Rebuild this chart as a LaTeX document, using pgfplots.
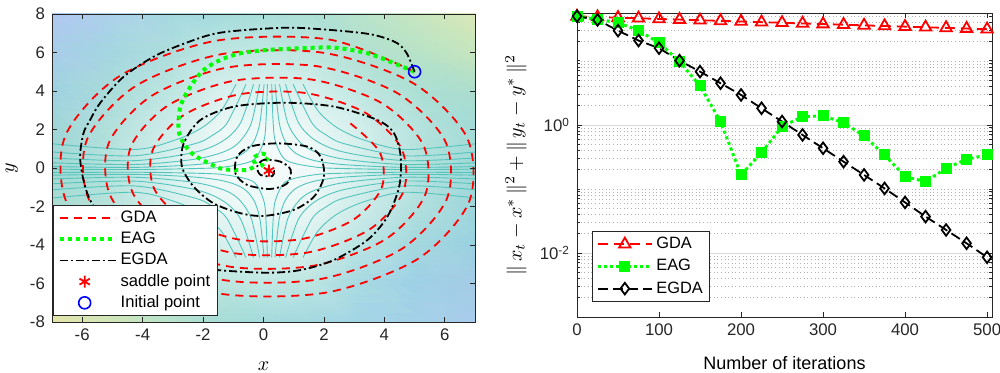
\documentclass[border=0pt]{standalone}
\usepackage{fontspec}
\setmainfont{Liberation Sans}
\usepackage{pgfplots}
\pgfplotsset{compat=1.18}
\usetikzlibrary{plotmarks}
\definecolor{mred}{rgb}{1,0,0}
\definecolor{mgreen}{rgb}{0,1,0}
\definecolor{mblue}{rgb}{0,0,1}
\definecolor{cline}{rgb}{0.33,0.77,0.74}
\definecolor{axgray}{rgb}{0.15,0.15,0.15}
\pgfplotsset{markonly legend/.style={legend image code/.code={\path (0pt,0pt) (28pt,0pt); \draw[##1] plot coordinates {(12.5pt,0pt)};}}}
\begin{document}
\begin{tikzpicture}
\path[use as bounding box] (0,0) rectangle (500pt,186.5pt);
% ---------------- left panel ----------------
\begin{axis}[
  at={(26pt,25.5pt)}, anchor=south west,
  scale only axis, width=211.5pt, height=154pt,
  xmin=-7, xmax=7, ymin=-8, ymax=8,
  xtick={-6,-4,-2,0,2,4,6}, ytick={-8,-6,-4,-2,0,2,4,6,8},
  axis on top, tick align=inside, major tick length=2.5pt,
  axis line style={axgray, line width=0.4pt}, tick style={axgray, line width=0.4pt},
  tick label style={font=\fontsize{8.4}{10}\selectfont, text=axgray},
  /pgf/number format/assume math mode=true,
  xlabel={$x$}, ylabel={$y$},
  label style={font=\fontsize{10}{12}\selectfont},
  x label style={at={(axis description cs:0.5,-0.145)}, anchor=center},
  y label style={at={(axis description cs:-0.095,0.5)}, anchor=center},
  legend style={at={(0.003,0.02)}, anchor=south west, font=\fontsize{8.3}{9}\selectfont,
    draw=axgray, fill=white, inner xsep=2pt, inner ysep=1pt, row sep=0pt,
    nodes={inner sep=1.5pt, text height=6pt, text depth=1.6pt}},
  legend cell align=left,
  legend image code/.code={\path (0pt,0pt) -- (28pt,0pt); \draw[#1] (0pt,0pt) -- (25pt,0pt);},
]
% background: average colour of the contour field
\addplot[surf, shader=interp, mesh/cols=9, mesh/color input=explicit,
  point meta=explicit symbolic, forget plot] table[meta=c] {
x y c
-7 -8 rgb=0.90,0.90,0.66
-5 -8 rgb=0.82,0.90,0.72
-3 -8 rgb=0.72,0.89,0.80
-1.5 -8 rgb=0.66,0.87,0.84
0 -8 rgb=0.64,0.86,0.86
1.5 -8 rgb=0.64,0.85,0.88
3 -8 rgb=0.64,0.84,0.90
5 -8 rgb=0.64,0.82,0.91
7 -8 rgb=0.66,0.80,0.92
-7 -6 rgb=0.78,0.89,0.74
-5 -6 rgb=0.72,0.89,0.78
-3 -6 rgb=0.70,0.88,0.83
-1.5 -6 rgb=0.74,0.90,0.87
0 -6 rgb=0.76,0.91,0.89
1.5 -6 rgb=0.74,0.90,0.88
3 -6 rgb=0.66,0.86,0.88
5 -6 rgb=0.62,0.82,0.90
7 -6 rgb=0.64,0.80,0.90
-7 -4 rgb=0.70,0.87,0.78
-5 -4 rgb=0.68,0.88,0.82
-3 -4 rgb=0.76,0.91,0.89
-1.5 -4 rgb=0.84,0.94,0.93
0 -4 rgb=0.86,0.95,0.94
1.5 -4 rgb=0.84,0.94,0.93
3 -4 rgb=0.74,0.90,0.89
5 -4 rgb=0.64,0.85,0.87
7 -4 rgb=0.60,0.82,0.88
-7 -2 rgb=0.66,0.86,0.82
-5 -2 rgb=0.72,0.89,0.86
-3 -2 rgb=0.84,0.94,0.93
-1.5 -2 rgb=0.92,0.97,0.96
0 -2 rgb=0.93,0.98,0.97
1.5 -2 rgb=0.92,0.97,0.96
3 -2 rgb=0.82,0.93,0.92
5 -2 rgb=0.70,0.88,0.87
7 -2 rgb=0.62,0.84,0.86
-7 0 rgb=0.62,0.85,0.83
-5 0 rgb=0.72,0.89,0.87
-3 0 rgb=0.86,0.95,0.94
-1.5 0 rgb=0.95,0.98,0.98
0 0 rgb=0.96,0.99,0.98
1.5 0 rgb=0.95,0.98,0.98
3 0 rgb=0.86,0.95,0.94
5 0 rgb=0.72,0.89,0.87
7 0 rgb=0.62,0.85,0.84
-7 2 rgb=0.62,0.84,0.84
-5 2 rgb=0.70,0.88,0.86
-3 2 rgb=0.82,0.93,0.92
-1.5 2 rgb=0.92,0.97,0.96
0 2 rgb=0.93,0.98,0.97
1.5 2 rgb=0.92,0.97,0.96
3 2 rgb=0.84,0.94,0.93
5 2 rgb=0.72,0.89,0.87
7 2 rgb=0.64,0.86,0.84
-7 4 rgb=0.62,0.82,0.88
-5 4 rgb=0.66,0.86,0.85
-3 4 rgb=0.74,0.90,0.88
-1.5 4 rgb=0.84,0.94,0.93
0 4 rgb=0.86,0.95,0.94
1.5 4 rgb=0.84,0.94,0.93
3 4 rgb=0.76,0.91,0.89
5 4 rgb=0.68,0.88,0.83
7 4 rgb=0.68,0.87,0.80
-7 6 rgb=0.66,0.80,0.92
-5 6 rgb=0.64,0.84,0.88
-3 6 rgb=0.68,0.87,0.86
-1.5 6 rgb=0.74,0.90,0.88
0 6 rgb=0.76,0.91,0.89
1.5 6 rgb=0.74,0.90,0.87
3 6 rgb=0.70,0.88,0.83
5 6 rgb=0.72,0.89,0.78
7 6 rgb=0.78,0.90,0.74
-7 8 rgb=0.70,0.78,0.95
-5 8 rgb=0.68,0.82,0.92
-3 8 rgb=0.64,0.85,0.88
-1.5 8 rgb=0.64,0.86,0.86
0 8 rgb=0.66,0.87,0.85
1.5 8 rgb=0.68,0.88,0.84
3 8 rgb=0.72,0.89,0.80
5 8 rgb=0.78,0.90,0.75
7 8 rgb=0.86,0.91,0.72
};
% contour lines near the saddle
\addplot[cline, line width=0.45pt, smooth, unbounded coords=jump, forget plot] table {
x y
0.27 4.35
0.32 2.35
0.40 1.35
0.75 0.40
1.70 0.05
2.70 -0.03
4.70 -0.08
7.20 -0.06
nan nan
0.13 4.35
0.08 2.35
0.0 1.35
-0.35 0.40
-1.30 0.05
-2.30 -0.03
-4.30 -0.08
-7.20 -0.06
nan nan
0.13 -4.65
0.08 -2.65
0.0 -1.65
-0.35 -0.70
-1.30 -0.35
-2.30 -0.27
-4.30 -0.22
-7.20 -0.24
nan nan
0.27 -4.65
0.32 -2.65
0.40 -1.65
0.75 -0.70
1.70 -0.35
2.70 -0.27
4.70 -0.22
7.20 -0.24
nan nan
0.38 4.35
0.52 2.35
0.73 1.35
1.09 0.74
1.70 0.38
2.70 0.17
4.70 0.03
7.20 0.08
nan nan
0.02 4.35
-0.12 2.35
-0.33 1.35
-0.69 0.74
-1.30 0.38
-2.30 0.17
-4.30 0.03
-7.20 0.08
nan nan
0.02 -4.65
-0.12 -2.65
-0.33 -1.65
-0.69 -1.04
-1.30 -0.68
-2.30 -0.47
-4.30 -0.33
-7.20 -0.38
nan nan
0.38 -4.65
0.52 -2.65
0.73 -1.65
1.09 -1.04
1.70 -0.68
2.70 -0.47
4.70 -0.33
7.20 -0.38
nan nan
0.53 4.35
0.80 2.35
1.20 1.35
1.70 0.85
2.70 0.45
4.70 0.18
7.20 0.28
nan nan
-0.13 4.35
-0.40 2.35
-0.80 1.35
-1.30 0.85
-2.30 0.45
-4.30 0.18
-7.20 0.28
nan nan
-0.13 -4.65
-0.40 -2.65
-0.80 -1.65
-1.30 -1.15
-2.30 -0.75
-4.30 -0.48
-7.20 -0.58
nan nan
0.53 -4.65
0.80 -2.65
1.20 -1.65
1.70 -1.15
2.70 -0.75
4.70 -0.48
7.20 -0.58
nan nan
0.73 4.35
1.16 2.35
1.75 1.40
2.70 0.81
4.70 0.38
7.20 0.54
nan nan
-0.33 4.35
-0.76 2.35
-1.35 1.40
-2.30 0.81
-4.30 0.38
-7.20 0.54
nan nan
-0.33 -4.65
-0.76 -2.65
-1.35 -1.70
-2.30 -1.11
-4.30 -0.68
-7.20 -0.84
nan nan
0.73 -4.65
1.16 -2.65
1.75 -1.70
2.70 -1.11
4.70 -0.68
7.20 -0.84
nan nan
0.98 4.35
1.60 2.35
2.07 1.72
2.70 1.25
4.70 0.63
7.20 0.86
nan nan
-0.58 4.35
-1.20 2.35
-1.67 1.72
-2.30 1.25
-4.30 0.63
-7.20 0.86
nan nan
-0.58 -4.65
-1.20 -2.65
-1.67 -2.02
-2.30 -1.55
-4.30 -0.93
-7.20 -1.16
nan nan
0.98 -4.65
1.60 -2.65
2.07 -2.02
2.70 -1.55
4.70 -0.93
7.20 -1.16
nan nan
1.31 4.35
1.80 2.98
2.44 2.09
3.33 1.45
4.70 0.96
7.20 1.29
nan nan
-0.91 4.35
-1.40 2.98
-2.04 2.09
-2.93 1.45
-4.30 0.96
-7.20 1.29
nan nan
-0.91 -4.65
-1.40 -3.28
-2.04 -2.39
-2.93 -1.75
-4.30 -1.26
-7.20 -1.59
nan nan
1.31 -4.65
1.80 -3.28
2.44 -2.39
3.33 -1.75
4.70 -1.26
7.20 -1.59
};
% GDA
\addplot[mred, line width=0.9pt, dash pattern=on 4pt off 3pt, smooth] coordinates {
(5,5) (2.18,6.67) (-1.57,6.61) (-4.77,4.77) (-6.56,1.67) (-6.50,-1.85)
(-4.63,-4.84) (-1.49,-6.52) (2.08,-6.47) (5.11,-4.72) (6.80,-1.77) (6.74,1.56)
(4.97,4.39) (2.00,5.98) (-1.37,5.92) (-4.23,4.26) (-5.84,1.48) (-5.77,-1.67)
(-4.11,-4.34) (-1.29,-5.83) (1.88,-5.77) (4.57,-4.21) (6.07,-1.59) (6.02,1.37)
(4.44,3.88) (1.80,5.28) (-1.19,5.22) (-3.70,3.75) (-5.12,1.30) (-5.06,-1.48)
(-3.58,-3.83) (-1.10,-5.13) (1.68,-5.07) (4.04,-3.70) (5.35,-1.40) (5.29,1.19)
(3.91,3.37) (1.61,4.59) (-0.99,4.53) (-3.17,3.24) (-4.39,1.11) (-4.33,-1.29)
(-3.05,-3.32) (-0.91,-4.44) (1.50,-4.38) (3.51,-3.19) (4.63,-1.22) (4.57,1.00)
(3.38,2.86) (1.41,3.89) (-0.79,3.83) (-2.65,2.74) (-3.67,0.92) (-3.61,-1.11)
(-2.52,-2.81) (-0.72,-3.74) (1.30,-3.68) (2.98,-2.68) (3.91,-1.03) (3.85,0.81)
(2.85,2.35)
};
\addlegendentry{GDA}
% EAG
\addplot[mgreen, line width=2pt, dash pattern=on 2pt off 2pt, smooth] coordinates {
(5,5) (4.32,5.44) (3.44,5.96) (2.33,6.25) (1.23,6.22) (0.12,6.13) (-0.76,5.96)
(-1.43,5.61) (-1.98,5.09) (-2.42,4.23) (-2.75,3.19) (-2.81,1.97) (-2.64,1.28)
(-2.31,0.68) (-1.76,0.21) (-1.43,-0.02) (-1.09,-0.1) (-0.54,-0.1) (-0.27,0.16)
(-0.35,0.5) (-0.05,0.75) (0.15,0.55) (-0.05,0.2) (0.1,-0.05) (0.18,-0.14)
};
\addlegendentry{EAG}
% EGDA
\addplot[black, line width=0.9pt, dash pattern=on 4pt off 1.5pt on 1pt off 1.5pt, smooth, tension=0.5] coordinates {
(5,5) (4.74,5.96) (4.43,6.48) (3.88,6.82) (3.32,7.0) (2.22,7.17) (0.9,7.29)
(-0.5,7.18) (-1.54,7.0) (-2.3,6.65) (-3.53,5.87) (-4.63,4.74) (-5.41,3.37)
(-5.74,2.49) (-5.96,1.8) (-6.07,0.59) (-5.96,-0.62) (-5.74,-1.66) (-5.2,-3.0)
(-4.3,-4.2) (-3.0,-5.0) (-1.54,-5.3) (0.12,-5.44) (1.23,-5.3) (2.33,-4.78)
(3.44,-3.74) (4.1,-2.53) (4.49,-0.97) (4.54,0.59) (4.32,1.8) (3.77,2.49)
(2.33,3.19) (0.67,3.39) (-0.98,3.19) (-2.09,2.49) (-2.64,1.28) (-2.7,0.07)
(-2.31,-0.97) (-1.65,-1.84) (-0.76,-2.35) (0.01,-2.49) (1.0,-2.18) (1.67,-1.49)
(2.0,-0.45) (1.89,0.59) (1.45,1.11) (0.45,1.28) (-0.43,1.11) (-0.87,0.59)
(-0.93,-0.28) (-0.54,-0.88) (0.23,-1.09) (0.78,-0.8) (0.9,-0.1) (0.56,0.33)
(0.01,0.42) (-0.21,0.07) (-0.1,-0.36) (0.29,-0.42) (0.35,-0.15) (0.18,-0.14)
};
\addlegendentry{EGDA}
\addplot[only marks, mark=asterisk, mark size=3pt, mred, line width=0.9pt, markonly legend]
  coordinates {(0.18,-0.14)};
\addlegendentry{saddle point}
\addplot[only marks, mark=o, mark size=3pt, mblue, line width=0.8pt, markonly legend]
  coordinates {(5,5)};
\addlegendentry{Initial point}
\end{axis}
% ---------------- right panel ----------------
\begin{axis}[
  at={(288.5pt,28pt)}, anchor=south west,
  scale only axis, width=207.5pt, height=152pt,
  ymode=log, xmin=0, xmax=506, ymin=1e-3, ymax=56,
  xtick={0,100,200,300,400,500},
  ytick={0.01,1}, yticklabels={10\textsuperscript{-2},10\textsuperscript{0}},
  minor ytick={0.002,0.003,0.004,0.005,0.006,0.007,0.008,0.009,
    0.02,0.03,0.04,0.05,0.06,0.07,0.08,0.09,0.1,
    0.2,0.3,0.4,0.5,0.6,0.7,0.8,0.9,2,3,4,5,6,7,8,9,10,20,30,40,50},
  ymajorgrids, yminorgrids,
  major grid style={black!15, line width=0.4pt},
  minor grid style={black!30, line width=0.3pt, dash pattern=on 0.5pt off 1.3pt},
  tick align=inside, major tick length=2.5pt, minor tick length=1.3pt,
  axis line style={axgray, line width=0.4pt}, tick style={axgray, line width=0.4pt},
  tick label style={font=\fontsize{8.4}{10}\selectfont, text=axgray},
  /pgf/number format/assume math mode=true,
  xlabel={Number of iterations},
  ylabel={$\|\,x_t-x^*\,\|^2+\|\,y_t-y^*\,\|^2$},
  x label style={at={(axis description cs:0.5,-0.151)}, anchor=center, font=\fontsize{9}{11}\selectfont},
  y label style={at={(axis description cs:-0.147,0.5)}, anchor=center, font=\fontsize{10}{12}\selectfont},
  legend style={at={(0.036,0.049)}, anchor=south west, font=\fontsize{8.2}{9}\selectfont,
    draw=axgray, fill=white, inner xsep=2pt, inner ysep=1pt, row sep=0pt,
    nodes={inner sep=1.5pt, text height=6.3pt, text depth=1.8pt}},
  legend cell align=left,
  legend image code/.code={\draw[#1, mark repeat=2, mark phase=2] plot coordinates {(0pt,0pt) (13.5pt,0pt) (27pt,0pt)};},
]
\addplot[mred, line width=0.9pt, dash pattern=on 5pt off 3pt, mark=triangle, mark size=3.3pt,
  mark options={solid, line width=0.9pt}] coordinates {
(0,49.6) (25,48.5) (50,47.3) (75,46.3) (100,45.2) (125,44.2) (150,43.2)
(175,42.2) (200,41.3) (225,40.3) (250,39.4) (275,38.5) (300,37.6) (325,36.8)
(350,35.9) (375,35.1) (400,34.3) (425,33.5) (450,32.8) (475,32.0) (500,31.3)
};
\addlegendentry{GDA}
\addplot[mgreen, line width=1.5pt, dash pattern=on 1.5pt off 1.5pt, mark=square*, mark size=2.5pt,
  mark options={solid, line width=0.5pt}] coordinates {
(0,49.6) (25,44.5) (50,39.7) (75,29.7) (100,19.3) (125,9.77) (150,4.07)
(175,1.13) (200,0.1655) (225,0.37) (250,0.94) (275,1.35) (300,1.38) (325,1.09)
(350,0.673) (375,0.34) (400,0.156) (425,0.130) (450,0.21) (475,0.291) (500,0.34)
};
\addlegendentry{EAG}
\addplot[black, line width=0.9pt, dash pattern=on 5pt off 2.5pt, mark=diamond, mark size=2.9pt,
  mark options={solid, line width=0.9pt}] coordinates {
(0,50.0) (25,43.7) (50,29.7) (75,20.8) (100,15.8) (125,10.1) (150,6.8)
(175,4.48) (200,2.94) (225,1.82) (250,1.13) (275,0.698) (300,0.432) (325,0.267)
(350,0.1655) (375,0.102) (400,0.0616) (425,0.037) (450,0.0229) (475,0.01416) (500,0.00857)
};
\addlegendentry{EGDA}
\end{axis}
\end{tikzpicture}
\end{document}
